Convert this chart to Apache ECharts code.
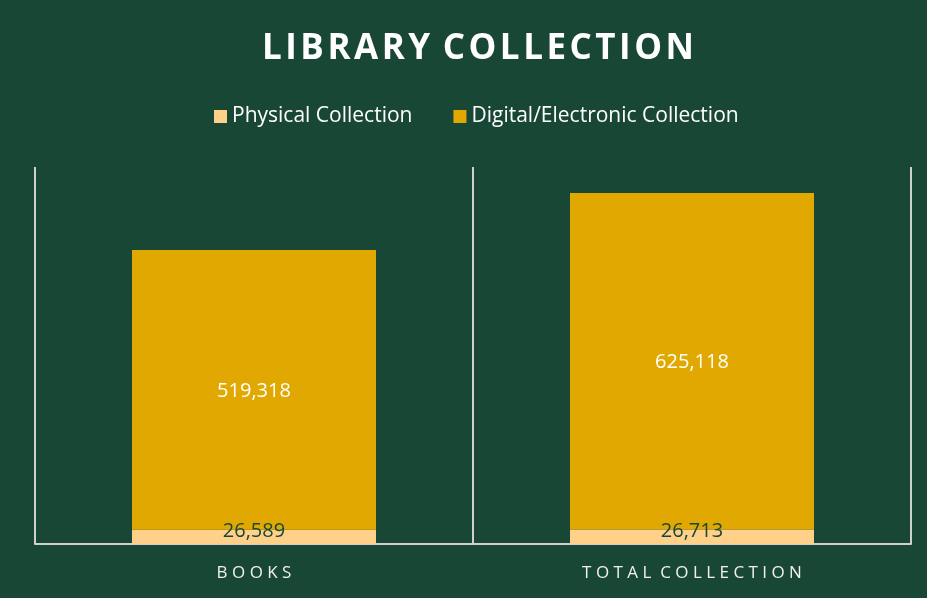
<!DOCTYPE html>
<html>
<head>
<meta charset="utf-8">
<script src="https://cdn.jsdelivr.net/npm/echarts@6/dist/echarts.min.js"></script>
<style>
	html, body { margin: 0; padding: 0; background: #184736; }
	#chart { width: 927px; height: 598px; }
</style>
</head>
<body>
<div id="chart"></div>
<script type="text/javascript">
	var categories = ['BOOKS', 'TOTAL COLLECTION'];
	var physical = [26589, 26713];
	var digital = [519318, 625118];
	var seriesNames = ['Physical Collection', 'Digital/Electronic Collection'];

	(function() {
		var chart = echarts.init(document.getElementById('chart'));

		// spread letters out a bit, like the original's letter spacing
		function spaced(s, gap, wordGap) {
			return s.split(' ').map(function(w) {
				return w.split('').join(gap);
			}).join(wordGap);
		}

		var fmt = function(p) {
			return p.value.toLocaleString('en-US');
		};

		var option = {
			backgroundColor: '#184736',
			textStyle: { fontFamily: 'Open Sans' },
			title: {
				text: spaced('LIBRARY COLLECTION', '\u200A', ' \u200A'),
				left: 257,
				top: 27,
				textStyle: {
					color: '#ffffff',
					fontSize: 35,
					fontWeight: 'bold',
					fontFamily: 'Open Sans'
				}
			},
			legend: {
				top: 101,
				left: 209,
				itemWidth: 13,
				itemHeight: 13,
				itemGap: 41,
				icon: 'rect',
				textStyle: { color: '#ffffff', fontSize: 21 },
				data: seriesNames
			},
			grid: { left: 35, right: 16, top: 167, bottom: 54 },
			xAxis: {
				type: 'category',
				data: categories,
				axisLine: { lineStyle: { color: '#d0d0d0', width: 2 } },
				axisTick: { show: false },
				splitLine: { show: true, lineStyle: { color: '#d0d0d0', width: 2 } },
				axisLabel: {
					color: '#f0f0f0',
					fontSize: 17,
					margin: 21,
					formatter: function(v) { return spaced(v, ' ', '  '); }
				}
			},
			yAxis: {
				type: 'value',
				min: 0,
				max: 700000,
				show: false,
				splitLine: { show: false }
			},
			series: [
				{
					name: seriesNames[0],
					type: 'bar',
					stack: 'total',
					barWidth: 244,
					data: physical,
					itemStyle: { color: '#ffd08a' },
					label: {
						show: true,
						position: 'inside',
						offset: [0, -6],
						color: '#184736',
						fontSize: 20,
						formatter: fmt
					}
				},
				{
					name: seriesNames[1],
					type: 'bar',
					stack: 'total',
					barWidth: 244,
					data: digital,
					itemStyle: { color: '#e0a800' },
					label: {
						show: true,
						position: 'inside',
						offset: [0, 1],
						color: '#ffffff',
						fontSize: 20,
						formatter: fmt
					}
				}
			]
		};

		chart.setOption(option);
	})();
</script>
</body>
</html>
